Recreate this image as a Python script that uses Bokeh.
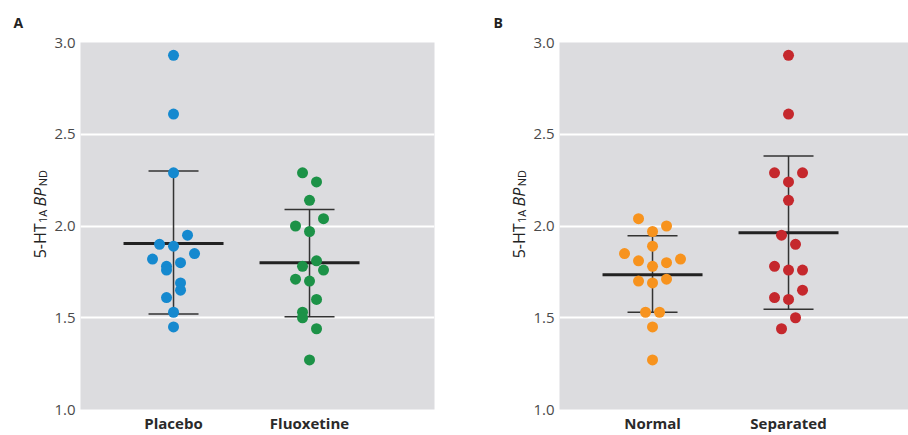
import math
from bokeh.plotting import figure
from bokeh.layouts import row
from bokeh.models import (ColumnDataSource, Whisker, TeeHead, FixedTicker,
                          NumeralTickFormatter, Range1d)
from bokeh.embed import file_html
from bokeh.resources import INLINE
from bokeh.core.properties import value

# ---------------- data ----------------
groups_a = ["Placebo", "Fluoxetine"]
groups_b = ["Normal", "Separated"]

placebo_vals = [2.93, 2.61, 2.29, 1.95, 1.90, 1.89, 1.85, 1.82, 1.80, 1.78, 1.76, 1.69, 1.65, 1.61, 1.53, 1.45]
placebo_slot = [0, 0, 0, 2, -2, 0, 3, -3, 1, -1, -1, 1, 1, -1, 0, 0]

fluox_vals = [2.29, 2.24, 2.14, 2.04, 2.00, 1.97, 1.81, 1.78, 1.76, 1.71, 1.70, 1.60, 1.53, 1.50, 1.44, 1.27]
fluox_slot = [-1, 1, 0, 2, -2, 0, 1, -1, 2, -2, 0, 1, -1, -1, 1, 0]

normal_vals = [2.04, 2.00, 1.97, 1.89, 1.85, 1.82, 1.81, 1.80, 1.78, 1.70, 1.71, 1.69, 1.53, 1.53, 1.45, 1.27]
normal_slot = [-2, 2, 0, 0, -4, 4, -2, 2, 0, -2, 2, 0, -1, 1, 0, 0]

sep_vals = [2.93, 2.61, 2.29, 2.29, 2.24, 2.14, 1.95, 1.90, 1.78, 1.76, 1.76, 1.65, 1.61, 1.60, 1.50, 1.44]
sep_slot = [0, 0, -2, 2, 0, 0, -1, 1, -2, 0, 2, 2, -2, 0, 1, -1]

means_a = [1.905, 1.80]
upper_a = [2.30, 2.09]
lower_a = [1.52, 1.505]

means_b = [1.735, 1.963]
upper_b = [1.947, 2.382]
lower_b = [1.53, 1.546]

y_ticks = [1.0, 1.5, 2.0, 2.5, 3.0]

colors_a = ["#1589cf", "#1c9247"]
colors_b = ["#f7931e", "#c5282d"]

# y-axis title pieces: (text, is_subscript, is_italic)
ylabel_pieces = [("5-HT", False, False), ("1A", True, False),
                 ("BP", False, True), ("ND", True, False)]

# ---------------- style ----------------
FONT = "Open Sans"
PX_PER_UNIT = 136.0
STEP = 7.0 / PX_PER_UNIT
X_START = 0.316
HEIGHT = 435
BORDER_TOP = 41
BORDER_BOTTOM = 25
MAIN_FS = 16
SUB_FS = 11
# approximate Open Sans advance widths (em) for spacing the title pieces
ADV = {"5": 0.572, "-": 0.322, "H": 0.738, "T": 0.554, "1": 0.572, "A": 0.633,
       "B": 0.63, "P": 0.60, "N": 0.764, "D": 0.742}


def text_w(txt, fs):
    return sum(ADV.get(ch, 0.6) for ch in txt) * fs


def make_label_fig(letter, width, letter_x, base_x):
    """Narrow side figure holding the panel letter and the rotated y-axis title.
    Its frame is aligned with the neighbouring panel frame, so 1 data unit = 1 px."""
    p = figure(width=width, height=HEIGHT, output_backend="svg", toolbar_location=None,
               x_range=Range1d(0, width),
               y_range=Range1d(BORDER_BOTTOM, HEIGHT - BORDER_TOP),
               x_axis_location=None, y_axis_location=None,
               min_border_left=0, min_border_right=0,
               min_border_top=BORDER_TOP, min_border_bottom=BORDER_BOTTOM)
    p.outline_line_color = None
    p.grid.grid_line_color = None
    p.background_fill_color = "white"
    p.border_fill_color = "white"

    p.title.text = letter
    p.title.align = "left"
    p.title.offset = letter_x
    p.title.standoff = 21
    p.title.text_font = FONT
    p.title.text_font_size = "14px"
    p.title.text_font_style = "bold"
    p.title.text_color = "#222222"

    y0 = HEIGHT - 258.0
    for i, (txt, sub, ital) in enumerate(ylabel_pieces):
        fs = SUB_FS if sub else MAIN_FS
        p.text(x=[base_x + (2.5 if sub else 0)], y=[y0], text=[txt], angle=math.pi / 2,
               text_font=value(FONT), text_font_size=f"{fs}px",
               text_font_style="italic" if ital else "normal", text_color="#222222",
               text_baseline="alphabetic", text_align="left")
        y0 += text_w(txt, fs) + (3.5 if i == 1 else 0.5)
    return p


def make_panel(groups, vals_list, slot_list, colors, means, uppers, lowers,
               width, left, right):
    frame_w = width - left - right
    p = figure(width=width, height=HEIGHT, output_backend="svg", toolbar_location=None,
               x_range=Range1d(X_START, X_START + frame_w / PX_PER_UNIT),
               y_range=Range1d(1.0, 3.0),
               min_border_left=left, min_border_right=right,
               min_border_top=BORDER_TOP, min_border_bottom=BORDER_BOTTOM)
    p.background_fill_color = "#dcdcdf"
    p.border_fill_color = "white"
    p.outline_line_color = None

    pos = [i + 1 for i in range(len(groups))]

    # axes
    p.xaxis.ticker = FixedTicker(ticks=pos)
    p.xaxis.major_label_overrides = {pp: g for pp, g in zip(pos, groups)}
    p.yaxis.ticker = FixedTicker(ticks=y_ticks)
    p.yaxis.formatter = NumeralTickFormatter(format="0.0")
    for ax in (p.xaxis, p.yaxis):
        ax.axis_line_color = None
        ax.major_tick_line_color = None
        ax.minor_tick_line_color = None
        ax.major_tick_out = 0
        ax.major_tick_in = 0
    p.yaxis.major_label_text_font = FONT
    p.yaxis.major_label_text_font_size = "15px"
    p.yaxis.major_label_text_color = "#4a4a4a"
    p.yaxis.major_label_standoff = 5
    p.xaxis.major_label_text_font = FONT
    p.xaxis.major_label_text_font_size = "15px"
    p.xaxis.major_label_text_font_style = "bold"
    p.xaxis.major_label_text_color = "#2a2a2a"
    p.xaxis.major_label_standoff = 3

    p.xgrid.grid_line_color = None
    p.ygrid.ticker = FixedTicker(ticks=y_ticks[1:-1])
    p.ygrid.grid_line_color = "white"
    p.ygrid.grid_line_width = 2

    # error bars (SD)
    wsrc = ColumnDataSource(dict(x=pos, upper=uppers, lower=lowers, mean=means))
    w = Whisker(base="x", upper="upper", lower="lower", source=wsrc, dimension="height",
                line_color="#333333", line_width=1.5,
                upper_head=TeeHead(size=50, line_color="#333333", line_width=1.5),
                lower_head=TeeHead(size=50, line_color="#333333", line_width=1.5))
    w.level = "underlay"
    p.add_layout(w)
    p.scatter("x", "mean", source=wsrc, marker="dash", size=100,
              line_color="#222222", line_width=3)

    # points
    for pp, vals, slots, c in zip(pos, vals_list, slot_list, colors):
        xs = [pp + s * STEP for s in slots]
        src = ColumnDataSource(dict(x=xs, y=vals))
        p.scatter("x", "y", source=src, size=11, fill_color=c, line_color=None)
    return p


la = make_label_fig("A", width=50, letter_x=13, base_x=39)
pa = make_panel(groups_a, [placebo_vals, fluox_vals], [placebo_slot, fluox_slot],
                colors_a, means_a, upper_a, lower_a, width=418, left=30, right=34)
lb = make_label_fig("B", width=60, letter_x=25, base_x=50)
pb = make_panel(groups_b, [normal_vals, sep_vals], [normal_slot, sep_slot],
                colors_b, means_b, upper_b, lower_b, width=380, left=31, right=0)

layout = row(la, pa, lb, pb)
open("out.html", "w").write(file_html(layout, INLINE))
